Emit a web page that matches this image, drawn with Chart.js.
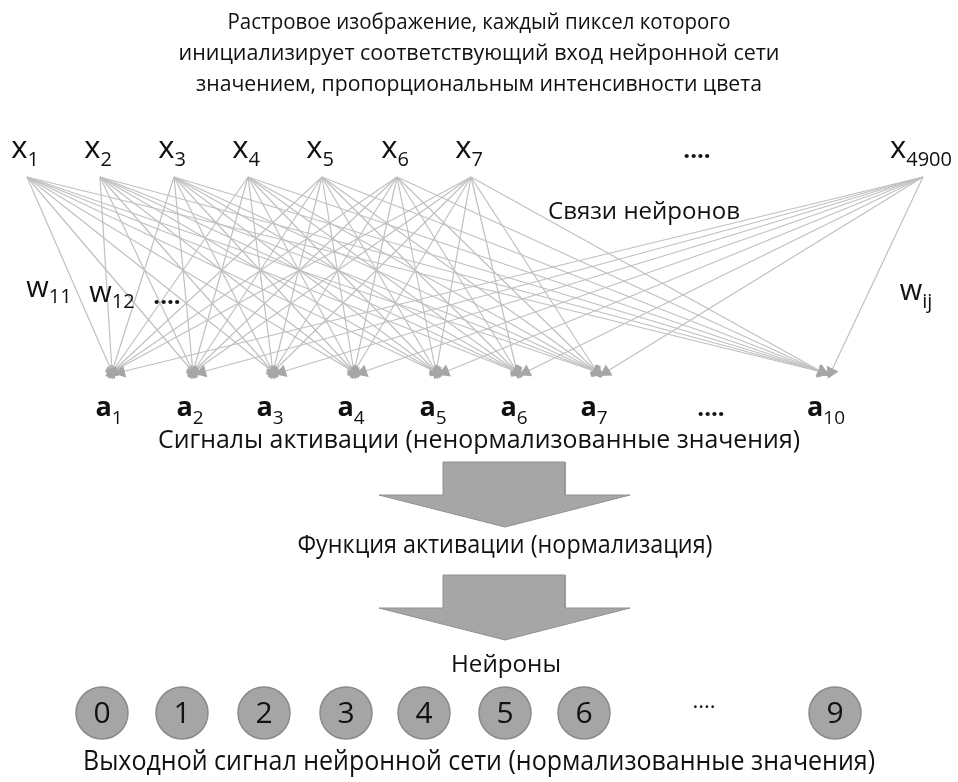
<!DOCTYPE html>
<html>
<head>
<meta charset="utf-8">
<script src="https://cdn.jsdelivr.net/npm/chart.js@4"></script>
<style>
  html, body { margin: 0; padding: 0; background: #fff; }
  canvas { display: block; }
</style>
</head>
<body>
<canvas id="diagram" width="958" height="782"></canvas>
<script>
// labels of the diagram
const titleLines = [
    'Растровое изображение, каждый пиксел которого',
    'инициализирует соответствующий вход нейронной сети',
    'значением, пропорциональным интенсивности цвета'
];
const inputSubs = ['1', '2', '3', '4', '5', '6', '7', '4900'];
const activationSubs = ['1', '2', '3', '4', '5', '6', '7', '10'];
const neuronLabels = ['0', '1', '2', '3', '4', '5', '6', '9'];
const linksCaption = 'Связи нейронов';
const activationCaption = 'Сигналы активации (ненормализованные значения)';
const functionCaption = 'Функция активации (нормализация)';
const neuronsCaption = 'Нейроны';
const outputCaption = 'Выходной сигнал нейронной сети (нормализованные значения)';

// layout (canvas units)
const inputX = [27, 100, 174, 248, 322, 397, 471, 923];
const targetX = [112, 193, 273, 354, 436, 517, 597, 822];
const neuronX = [102, 182, 264, 346, 424, 505, 584, 835];
const topY = 177, bottomY = 372, neuronY = 713;
const FONT = '"Open Sans", "Noto Sans", sans-serif';

// one line per connection, arrow head at the activation end
const links = [];
inputX.forEach((sx, i) => {
    targetX.forEach((tx, j) => {
        const ex = i === inputX.length - 1 ? tx + 9 : tx;
        const ang = Math.atan2(ex - sx, bottomY - topY) * 180 / Math.PI;
        links.push({
            data: [{ x: sx, y: topY }, { x: ex, y: bottomY }],
            showLine: true,
            borderColor: '#c0c0c0',
            borderWidth: 1.2,
            pointRadius: [0, 7.5],
            pointStyle: 'triangle',
            rotation: [0, 180 - ang],
            pointBackgroundColor: '#a6a6a6',
            pointBorderWidth: 0
        });
    });
});

function blockArrow(top, base, tip) {
    return {
        data: [
            { x: 443, y: top }, { x: 565, y: top }, { x: 565, y: base }, { x: 630, y: base },
            { x: 505, y: tip }, { x: 379, y: base }, { x: 443, y: base }, { x: 443, y: top }
        ],
        showLine: true,
        fill: 'shape',
        backgroundColor: '#a6a6a6',
        borderColor: '#909090',
        borderWidth: 1,
        pointRadius: 0
    };
}

const neurons = {
    data: neuronX.map(x => ({ x: x, y: neuronY })),
    pointRadius: 26,
    pointBackgroundColor: '#a5a5a5',
    pointBorderColor: '#8a8a8a',
    pointBorderWidth: 1.5
};

function drawText(ctx, str, cx, cy, size, width, weight) {
    ctx.font = (weight || 400) + ' ' + size + 'px ' + FONT;
    const w = ctx.measureText(str).width;
    const sx = width ? width / w : 1;
    ctx.save();
    ctx.translate(cx, cy);
    ctx.scale(sx, 1);
    ctx.textAlign = 'center';
    ctx.textBaseline = 'middle';
    ctx.fillText(str, 0, 0);
    ctx.restore();
}

function subLabel(ctx, main, sub, cx, base, mSize, sSize, drop, weight) {
    const mFont = (weight || 400) + ' ' + mSize + 'px ' + FONT;
    const sFont = sSize + 'px ' + FONT;
    ctx.font = mFont;
    const mw = ctx.measureText(main).width;
    ctx.font = sFont;
    const sw = ctx.measureText(sub).width;
    const left = cx - (mw + sw) / 2;
    ctx.textAlign = 'left';
    ctx.textBaseline = 'alphabetic';
    ctx.font = mFont;
    ctx.fillText(main, left, base);
    ctx.font = sFont;
    ctx.fillText(sub, left + mw, base + drop);
}

const textPlugin = {
    id: 'diagramText',
    afterDatasetsDraw(chart) {
        const ctx = chart.ctx;
        const px = v => chart.scales.x.getPixelForValue(v);
        const py = v => chart.scales.y.getPixelForValue(v);
        ctx.save();
        ctx.fillStyle = '#111';

        drawText(ctx, titleLines[0], px(479), py(23), 22, 503);
        drawText(ctx, titleLines[1], px(479), py(54), 22, 601);
        drawText(ctx, titleLines[2], px(479), py(85), 22, 566);

        inputSubs.forEach((s, i) => subLabel(ctx, 'x', s, px(inputX[i] - 2), py(158), 31, 20, 8));
        activationSubs.forEach((s, j) => subLabel(ctx, 'a', s, px(targetX[j] - 3 + (s.length - 1) * 7), py(416), 27, 19, 8, 700));

        subLabel(ctx, 'w', '11', px(49), py(297), 29, 20, 6);
        subLabel(ctx, 'w', '12', px(112), py(302), 29, 20, 6);
        subLabel(ctx, 'w', 'ij', px(916), py(300), 29, 20, 8);

        ctx.font = 'bold 24px ' + FONT;
        ctx.textAlign = 'center';
        ctx.textBaseline = 'alphabetic';
        ctx.fillText('....', px(697), py(158));
        ctx.fillText('....', px(711), py(416));
        ctx.fillText('....', px(167), py(304));
        ctx.font = '22px ' + FONT;
        ctx.fillText('....', px(704), py(708));

        drawText(ctx, linksCaption, px(644), py(212), 23, 192);
        drawText(ctx, activationCaption, px(479), py(441), 25, 642);
        drawText(ctx, functionCaption, px(505), py(546), 25, 415);
        drawText(ctx, neuronsCaption, px(506), py(665), 24, 110);
        drawText(ctx, outputCaption, px(479), py(762), 27, 792);

        neuronLabels.forEach((s, k) => drawText(ctx, s, px(neuronX[k]), py(neuronY + 1), 30, null));
        ctx.restore();
    }
};

new Chart(document.getElementById('diagram').getContext('2d'), {
    type: 'scatter',
    data: {
        datasets: [...links, blockArrow(462, 495, 527), blockArrow(575, 608, 640), neurons]
    },
    options: {
        responsive: false,
        animation: false,
        events: [],
        layout: { padding: 0, autoPadding: false },
        plugins: {
            legend: { display: false },
            tooltip: { enabled: false }
        },
        scales: {
            x: { type: 'linear', min: 0, max: 958, display: false },
            y: { type: 'linear', min: 0, max: 782, reverse: true, display: false }
        }
    },
    plugins: [textPlugin]
});
</script>
</body>
</html>
